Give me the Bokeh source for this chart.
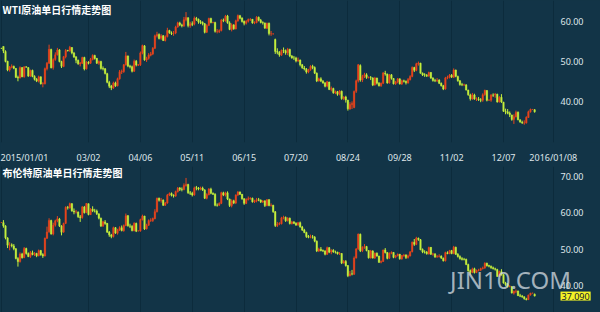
import pandas as pd
from bokeh.plotting import figure
from bokeh.layouts import column
from bokeh.models import ColumnDataSource, FixedTicker, Label, Range1d
from bokeh.core.properties import value
from bokeh.embed import file_html
from bokeh.resources import INLINE

# ---------------- data (one bar per weekday, 2015-01-01 .. 2015-12-28) ----------------
wti_open = [
    53.30, 53.76, 52.50, 50.05, 47.90, 48.60, 48.80, 48.30, 46.10, 45.90, 48.50, 46.20, 48.70, 48.50, 46.40, 47.80, 46.30, 45.60, 45.10, 46.20, 44.50, 44.50,
    48.20, 49.60, 53.00, 48.50, 50.50, 51.70, 52.90, 50.00, 48.80, 51.20, 52.80, 52.70, 53.50, 52.10, 51.20, 50.30, 49.40, 49.60, 51.00, 48.20,
    49.80, 49.60, 50.50, 51.50, 50.80, 49.60, 50.00, 48.30, 48.20, 47.00, 44.80, 43.90, 43.40, 44.70, 44.00, 45.70, 47.40, 47.50, 49.20, 51.40, 48.90, 48.70,
    47.60, 50.10, 49.10, 49.20, 52.10, 53.90, 50.40, 50.80, 51.60, 51.90, 53.30, 56.40, 56.70, 55.80, 56.40, 55.20, 56.20, 57.70, 57.10, 57.00, 57.10, 58.60,
    59.60, 59.10, 58.90, 60.40, 60.90, 58.90, 59.40, 59.30, 60.70, 60.50, 59.90, 59.70, 59.40, 57.30, 59.00, 60.70, 59.70, 59.70, 57.50, 57.50, 57.70,
    60.30, 60.20, 61.30, 59.60, 58.00, 59.10, 58.10, 60.10, 61.40, 60.80, 60.00, 59.50, 60.00, 60.40, 60.50, 59.60, 59.70, 61.00, 60.30, 59.70, 59.60, 58.30,
    59.50, 56.90, 56.90, 55.50, 52.50, 52.30, 51.60, 52.80, 52.70, 52.20, 53.00, 51.40, 50.90, 50.90, 50.20, 50.40, 49.20, 48.40, 48.10, 47.40, 48.00, 48.80, 48.50,
    47.10, 45.20, 45.70, 45.10, 44.70, 43.90, 44.90, 43.10, 43.30, 42.20, 42.50, 41.90, 42.60, 40.80, 41.20, 40.40, 38.20, 39.30, 38.60, 42.60, 45.20,
    49.00, 45.40, 46.30, 46.70, 46.00, 46.00, 45.90, 44.20, 45.90, 44.60, 44.00, 44.60, 47.10, 46.90, 44.70, 46.70, 45.80, 44.50, 44.90, 45.70, 44.40, 45.20,
    45.10, 44.70, 45.50, 46.30, 48.50, 47.80, 49.40, 49.60, 47.10, 46.70, 46.60, 46.40, 47.30, 45.90, 45.30, 45.20, 45.40, 44.60, 44.00, 43.20, 45.90, 46.10,
    46.60, 46.10, 47.90, 46.30, 45.20, 44.30, 44.20, 44.20, 42.90, 41.70, 40.70, 41.70, 40.70, 40.70, 40.50, 40.40, 41.80, 42.80, 40.40, 40.40, 41.70,
    41.70, 41.90, 40.00, 41.10, 39.90, 37.60, 37.50, 37.20, 36.70, 35.60, 36.30, 37.40, 35.50, 34.90, 34.70, 34.70, 36.10, 37.50, 38.10, 38.00,
]
wti_high = [
    53.40, 53.80, 52.80, 50.20, 48.90, 49.30, 49.00, 48.40, 46.50, 48.80, 48.60, 48.80, 48.80, 48.60, 48.00, 48.00, 46.60, 45.90, 46.50, 46.30, 44.90, 48.50,
    49.90, 54.20, 53.20, 50.80, 52.30, 53.40, 53.10, 50.20, 51.40, 53.10, 52.90, 53.90, 53.60, 52.40, 51.30, 50.50, 49.90, 51.20, 51.20, 50.10,
    50.10, 50.90, 51.80, 51.70, 50.90, 50.30, 50.20, 48.80, 48.40, 47.20, 45.20, 44.20, 45.00, 45.00, 46.00, 47.90, 48.00, 49.40, 52.40, 51.50, 49.20, 49.00,
    50.50, 50.40, 49.40, 52.50, 54.20, 54.10, 51.20, 52.10, 52.40, 53.60, 56.70, 57.40, 57.00, 56.80, 56.60, 56.50, 58.40, 57.90, 57.50, 57.60, 58.90, 59.90,
    59.90, 59.40, 61.10, 62.30, 61.00, 59.90, 60.00, 61.20, 61.10, 60.70, 60.30, 60.00, 59.60, 59.30, 60.90, 60.90, 59.90, 59.90, 58.10, 58.00, 60.60,
    60.70, 61.60, 61.60, 60.00, 59.50, 59.30, 60.40, 61.70, 61.60, 61.00, 60.20, 60.30, 60.70, 60.80, 60.60, 60.00, 61.30, 61.20, 60.60, 60.00, 59.70, 59.70,
    59.70, 57.60, 57.00, 55.70, 53.30, 52.60, 53.00, 53.50, 53.00, 53.40, 53.20, 51.60, 51.40, 51.20, 51.00, 50.50, 49.40, 48.90, 48.40, 48.20, 49.10, 49.20, 48.80,
    47.30, 46.00, 46.10, 45.40, 44.90, 45.20, 45.00, 43.80, 43.50, 42.80, 42.70, 42.90, 42.80, 41.40, 41.50, 40.50, 39.90, 40.10, 42.80, 45.50, 49.40,
    49.30, 46.70, 47.20, 47.10, 46.30, 46.40, 46.10, 46.20, 46.00, 44.90, 44.80, 47.40, 47.70, 47.00, 46.90, 46.90, 45.90, 45.20, 45.90, 45.80, 45.50, 45.50,
    45.30, 45.90, 46.60, 48.80, 48.70, 49.70, 50.00, 49.70, 47.30, 47.10, 46.90, 47.50, 47.40, 46.10, 45.70, 45.90, 45.60, 44.80, 44.20, 46.20, 46.50, 46.90,
    46.90, 48.30, 48.00, 46.50, 45.40, 44.70, 44.50, 44.40, 43.00, 42.00, 42.20, 42.00, 41.10, 41.20, 40.90, 42.10, 43.00, 42.90, 40.60, 41.90, 42.10,
    42.20, 42.00, 41.40, 41.90, 40.00, 38.30, 38.20, 37.60, 36.80, 36.90, 37.80, 37.60, 35.70, 35.30, 35.40, 36.40, 37.80, 38.30, 38.20, 38.20,
]
wti_low = [
    53.20, 52.10, 49.80, 47.60, 47.50, 48.30, 48.10, 45.90, 45.10, 45.80, 46.10, 46.00, 48.50, 46.20, 46.20, 46.10, 45.30, 44.90, 44.80, 44.30, 43.60, 44.30,
    47.80, 49.40, 48.30, 48.00, 50.20, 51.50, 49.80, 48.40, 48.60, 50.80, 52.50, 52.40, 51.80, 50.90, 49.60, 49.20, 48.80, 49.40, 47.80, 48.00,
    49.30, 49.40, 50.30, 50.50, 49.40, 49.20, 48.00, 47.80, 46.80, 44.60, 43.40, 42.90, 43.20, 43.70, 43.80, 45.50, 46.90, 47.20, 49.00, 48.60, 48.30, 47.30,
    47.40, 48.80, 48.90, 48.90, 51.80, 50.20, 49.90, 50.50, 51.30, 51.60, 53.10, 56.00, 55.50, 55.40, 55.10, 55.00, 56.00, 56.90, 56.60, 56.40, 56.80, 58.40,
    58.80, 58.50, 58.60, 60.00, 58.50, 58.40, 58.80, 59.00, 60.10, 59.40, 59.30, 59.00, 57.00, 57.10, 58.80, 59.50, 59.50, 57.20, 57.00, 57.10, 57.50,
    59.80, 59.90, 59.40, 57.80, 57.50, 57.90, 58.00, 59.90, 60.50, 59.70, 59.00, 59.20, 59.70, 60.10, 59.40, 59.30, 59.50, 60.00, 59.50, 59.20, 58.10, 58.10,
    56.50, 56.40, 56.70, 51.90, 51.80, 51.20, 51.40, 52.10, 51.70, 51.60, 51.10, 50.70, 50.40, 49.80, 49.90, 48.80, 48.20, 47.80, 47.00, 47.10, 47.70, 48.10, 46.90,
    44.90, 45.00, 44.90, 44.50, 43.60, 43.60, 42.90, 42.60, 42.00, 41.90, 41.50, 41.60, 40.50, 40.40, 39.80, 37.80, 38.00, 38.20, 38.40, 42.20, 44.80,
    45.00, 44.90, 45.90, 45.70, 45.80, 45.40, 43.90, 44.00, 44.30, 43.80, 43.70, 44.40, 46.50, 44.50, 44.50, 45.50, 44.30, 44.20, 44.60, 44.30, 44.20, 44.80,
    44.30, 44.50, 45.30, 46.10, 47.40, 47.60, 49.00, 47.00, 46.40, 46.20, 46.20, 46.20, 45.70, 45.00, 44.90, 44.90, 44.40, 43.80, 42.90, 43.00, 45.60, 45.80,
    45.90, 45.90, 46.10, 45.00, 44.00, 43.90, 43.90, 42.80, 41.50, 40.30, 40.50, 40.50, 40.20, 40.20, 39.90, 40.00, 41.50, 40.10, 40.20, 40.00, 41.20,
    41.00, 39.80, 39.80, 39.70, 37.50, 36.90, 36.90, 36.20, 35.30, 34.50, 36.10, 35.40, 34.80, 34.50, 34.30, 34.60, 36.00, 37.30, 38.00, 37.30,
]
wti_close = [
    53.27, 52.69, 50.04, 47.93, 48.65, 48.79, 48.36, 46.07, 45.89, 48.48, 46.25, 48.69, 48.60, 46.39, 47.78, 46.31, 45.59, 45.15, 46.23, 44.45, 44.53, 48.24,
    49.57, 53.05, 48.45, 50.48, 51.69, 52.86, 50.02, 48.84, 51.21, 52.78, 52.70, 53.53, 52.14, 51.16, 50.34, 49.45, 49.63, 50.99, 48.17, 49.76,
    49.59, 50.52, 51.53, 50.76, 49.61, 50.00, 48.29, 48.17, 47.05, 44.84, 43.88, 43.46, 44.66, 43.96, 45.72, 47.45, 47.51, 49.21, 51.43, 48.87, 48.68, 47.60,
    50.09, 49.14, 49.20, 52.14, 53.98, 50.42, 50.79, 51.64, 51.91, 53.29, 56.39, 56.71, 55.74, 56.38, 55.26, 56.16, 57.74, 57.15, 56.99, 57.06, 58.58, 59.63,
    59.15, 58.93, 60.40, 60.93, 58.94, 59.39, 59.25, 60.75, 60.50, 59.88, 59.69, 59.43, 57.26, 58.98, 60.72, 59.72, 59.70, 57.51, 57.51, 57.68, 60.30,
    60.20, 61.26, 59.64, 58.00, 59.13, 58.14, 60.14, 61.43, 60.77, 59.96, 59.52, 59.97, 60.45, 60.45, 59.61, 59.68, 61.01, 60.27, 59.70, 59.63, 58.33, 59.47,
    56.96, 56.93, 56.90, 52.53, 52.33, 51.65, 52.78, 52.74, 52.20, 53.04, 51.41, 50.91, 50.89, 50.15, 50.36, 49.19, 48.45, 48.14, 47.39, 47.98, 48.79, 48.52, 47.12,
    45.17, 45.74, 45.15, 44.66, 43.87, 44.96, 43.08, 43.30, 42.23, 42.50, 41.87, 42.62, 40.80, 41.14, 40.45, 38.24, 39.31, 39.60, 42.56, 45.22, 49.20,
    45.41, 46.25, 46.75, 46.05, 46.00, 45.94, 44.15, 45.92, 44.63, 44.00, 44.59, 47.15, 46.90, 44.68, 46.68, 45.83, 44.48, 44.91, 45.70, 44.43, 45.23, 45.09,
    44.74, 45.54, 46.26, 48.53, 47.81, 49.43, 49.63, 47.10, 46.66, 46.64, 46.38, 47.26, 45.89, 45.29, 45.20, 45.38, 44.60, 43.98, 43.20, 45.94, 46.06, 46.59,
    46.14, 47.90, 46.32, 45.20, 44.29, 44.21, 44.21, 42.93, 41.75, 40.74, 41.74, 40.67, 40.75, 40.54, 40.39, 41.75, 42.87, 40.36, 40.40, 41.71, 41.65,
    41.85, 39.94, 41.08, 39.97, 37.65, 37.51, 37.16, 36.76, 35.62, 36.31, 37.35, 35.52, 34.95, 34.73, 34.74, 36.14, 37.50, 38.10, 38.10, 37.50,
]

brent_open = [
    57.30, 57.30, 56.40, 53.10, 51.10, 51.20, 50.90, 50.10, 47.40, 46.60, 48.70, 47.70, 50.20, 48.80, 48.00, 49.00, 48.50, 48.80, 48.20, 49.60, 48.50, 48.10,
    53.00, 54.80, 57.90, 54.20, 56.60, 57.80, 58.30, 56.40, 54.70, 57.10, 61.50, 61.40, 62.50, 60.50, 60.20, 60.20, 58.90, 58.70, 61.60, 60.10,
    62.50, 59.50, 61.00, 60.50, 60.50, 59.70, 58.50, 56.40, 57.50, 57.10, 54.70, 53.90, 53.50, 55.90, 54.40, 55.30, 55.90, 55.10, 56.50, 59.20, 56.40, 56.30,
    55.10, 57.10, 55.00, 55.00, 58.10, 59.10, 55.60, 56.60, 57.90, 57.90, 58.40, 60.30, 64.00, 63.40, 63.50, 62.10, 62.70, 64.90, 65.30, 64.80, 64.60, 65.80,
    66.80, 66.50, 66.40, 67.50, 67.80, 65.50, 65.40, 64.90, 66.90, 66.80, 66.60, 66.80, 66.30, 64.00, 65.00, 66.50, 65.40, 65.10, 62.10, 62.10, 62.60,
    65.50, 64.90, 65.50, 63.80, 62.00, 63.30, 62.70, 64.90, 65.70, 65.10, 63.90, 62.60, 63.70, 63.90, 64.00, 63.00, 63.30, 63.60, 63.50, 63.00, 63.30, 62.00,
    63.60, 62.00, 62.10, 60.30, 56.50, 56.90, 57.00, 58.60, 58.70, 57.90, 58.50, 57.00, 57.50, 57.10, 56.70, 57.30, 56.10, 55.30, 54.60, 53.50, 53.30, 53.40, 53.30,
    52.20, 49.50, 50.00, 49.60, 49.50, 48.60, 50.40, 49.20, 49.70, 49.20, 49.20, 48.70, 48.80, 46.20, 46.60, 45.50, 42.70, 43.20, 43.10, 47.60, 50.10,
    54.10, 49.60, 50.50, 50.70, 49.60, 47.60, 49.50, 47.60, 48.90, 48.10, 46.40, 46.60, 49.80, 49.10, 47.50, 48.90, 49.10, 47.80, 48.20, 48.60, 47.30, 48.20,
    48.40, 47.70, 48.10, 49.30, 51.90, 51.30, 53.00, 52.60, 49.90, 49.20, 49.20, 48.70, 50.50, 48.60, 48.70, 47.90, 48.00, 48.10, 47.50, 46.80, 49.00, 48.80,
    49.60, 48.80, 50.50, 48.60, 48.00, 47.40, 47.20, 47.20, 45.80, 44.10, 43.60, 44.60, 43.60, 44.10, 44.20, 44.70, 44.80, 46.10, 45.50, 45.30, 44.90,
    44.60, 44.40, 42.50, 43.80, 43.00, 40.70, 40.30, 39.70, 39.70, 37.90, 38.40, 38.50, 37.20, 37.10, 36.90, 36.30, 36.10, 37.40, 37.90, 37.60,
]
brent_high = [
    57.40, 58.00, 56.60, 53.30, 51.90, 51.60, 51.40, 50.30, 47.80, 49.10, 49.00, 50.60, 50.40, 49.10, 49.50, 49.60, 49.20, 49.00, 49.90, 49.80, 48.90, 53.20,
    56.20, 58.50, 58.10, 57.30, 58.10, 59.10, 58.60, 56.60, 57.30, 61.80, 61.90, 62.80, 62.70, 61.20, 60.80, 60.40, 59.40, 61.90, 61.90, 62.70,
    62.60, 61.30, 61.80, 61.10, 60.90, 59.90, 58.70, 57.80, 58.00, 57.20, 55.00, 54.20, 56.20, 56.10, 55.60, 56.30, 56.50, 56.80, 59.80, 59.40, 57.00, 56.60,
    57.40, 57.30, 55.20, 58.40, 59.50, 59.20, 57.00, 58.20, 58.50, 58.70, 61.00, 64.20, 64.20, 64.10, 63.70, 63.00, 65.20, 65.60, 65.60, 65.10, 66.10, 67.10,
    67.10, 67.00, 68.10, 69.60, 68.00, 66.00, 65.80, 67.20, 67.40, 67.10, 67.20, 67.20, 66.50, 65.40, 66.80, 66.90, 65.60, 65.40, 62.60, 62.90, 65.80,
    65.80, 65.80, 65.90, 63.90, 63.70, 63.60, 65.10, 66.00, 65.90, 65.20, 64.00, 64.00, 64.50, 64.30, 64.20, 63.60, 64.10, 64.10, 63.70, 63.50, 63.40, 63.80,
    63.80, 62.60, 62.20, 60.50, 57.50, 57.40, 58.90, 59.20, 59.00, 58.80, 58.70, 57.80, 57.70, 57.40, 57.50, 57.60, 56.40, 55.60, 54.80, 53.90, 54.00, 53.90, 53.60,
    52.40, 50.40, 50.60, 49.90, 49.70, 50.70, 50.60, 50.00, 50.00, 49.60, 49.30, 49.20, 48.90, 47.00, 47.00, 45.60, 44.00, 44.30, 48.00, 50.30, 54.30,
    54.30, 50.80, 51.40, 50.90, 49.70, 49.80, 49.70, 49.10, 49.10, 48.20, 46.90, 49.90, 50.30, 49.20, 49.10, 49.40, 49.20, 48.40, 48.80, 48.70, 48.40, 48.70,
    48.60, 48.50, 49.50, 52.10, 52.80, 53.40, 53.20, 52.80, 50.20, 49.70, 49.50, 50.70, 50.60, 49.00, 48.90, 48.40, 48.60, 48.30, 47.70, 49.30, 49.40, 49.80,
    49.80, 50.90, 50.70, 48.90, 48.30, 47.80, 47.60, 47.40, 46.00, 44.40, 44.90, 44.90, 44.40, 44.60, 44.90, 45.20, 46.40, 46.30, 45.70, 45.50, 45.20,
    44.90, 44.60, 44.10, 44.50, 43.10, 41.00, 40.70, 40.10, 39.80, 38.60, 38.90, 38.60, 37.70, 37.40, 37.00, 36.60, 37.50, 38.00, 38.00, 37.80,
]
brent_low = [
    57.20, 55.90, 52.70, 50.30, 49.70, 50.50, 49.70, 47.20, 45.20, 46.30, 47.40, 47.50, 48.50, 47.80, 47.60, 48.30, 48.10, 47.80, 48.00, 48.20, 47.60, 48.00,
    52.80, 54.50, 54.00, 53.80, 56.20, 57.40, 56.10, 53.80, 54.50, 56.90, 60.90, 61.10, 60.30, 59.60, 59.80, 58.60, 57.50, 58.40, 59.80, 59.90,
    59.30, 59.40, 60.20, 60.10, 59.40, 58.20, 56.10, 56.10, 56.70, 54.50, 53.40, 53.00, 53.20, 54.20, 54.00, 55.00, 54.90, 54.80, 56.30, 56.20, 55.80, 54.90,
    54.90, 54.70, 54.90, 54.80, 57.90, 55.30, 55.40, 56.40, 57.50, 57.50, 58.20, 60.10, 63.10, 62.80, 61.90, 61.90, 62.50, 64.60, 64.50, 64.20, 64.40, 65.60,
    66.00, 65.90, 66.20, 67.20, 65.20, 64.90, 64.50, 64.70, 66.20, 66.20, 66.20, 66.00, 63.80, 63.70, 64.80, 65.10, 64.90, 61.80, 61.70, 61.90, 62.40,
    64.60, 64.50, 63.50, 61.60, 61.50, 62.40, 62.40, 64.60, 64.90, 63.60, 62.20, 62.40, 63.40, 63.60, 62.80, 62.70, 62.90, 63.20, 62.70, 62.70, 61.60, 61.80,
    61.80, 61.70, 60.00, 56.10, 56.10, 56.60, 56.80, 58.20, 57.50, 57.60, 56.80, 56.80, 56.90, 56.40, 56.40, 55.90, 55.00, 54.40, 53.10, 53.00, 53.00, 52.90, 51.90,
    49.20, 49.20, 49.40, 49.20, 48.30, 48.40, 48.90, 48.60, 49.00, 48.80, 48.50, 48.40, 45.90, 46.00, 45.20, 42.30, 42.50, 42.80, 42.90, 47.40, 49.80,
    49.20, 49.20, 50.10, 49.40, 47.40, 47.40, 47.40, 47.30, 47.90, 46.20, 46.10, 46.50, 48.80, 47.20, 47.30, 48.60, 47.50, 47.50, 48.00, 47.10, 47.10, 47.90,
    47.30, 47.40, 48.00, 49.10, 50.90, 51.10, 52.30, 49.70, 48.90, 48.80, 48.50, 48.50, 48.40, 48.20, 47.60, 47.60, 47.70, 47.30, 46.60, 46.60, 48.60, 48.60,
    48.60, 48.60, 48.40, 47.70, 47.10, 46.90, 46.90, 45.60, 43.80, 43.00, 43.40, 43.30, 43.40, 43.90, 44.00, 44.40, 44.60, 45.20, 45.00, 44.60, 44.40,
    44.10, 42.40, 42.40, 42.70, 40.50, 39.90, 39.40, 39.50, 37.80, 37.50, 37.90, 37.10, 36.80, 36.60, 36.10, 35.90, 36.00, 37.20, 37.80, 37.00,
]
brent_close = [
    57.33, 56.42, 53.11, 51.10, 51.15, 50.96, 50.11, 47.43, 46.59, 48.69, 47.67, 50.17, 48.84, 47.99, 49.03, 48.52, 48.79, 48.16, 49.60, 48.47, 48.13, 52.99,
    54.75, 57.91, 54.16, 56.57, 57.80, 58.34, 56.43, 54.66, 57.05, 61.52, 61.40, 62.53, 60.53, 60.21, 60.22, 58.90, 58.66, 61.63, 60.05, 62.58,
    59.54, 61.02, 60.55, 60.48, 59.73, 58.53, 56.39, 57.54, 57.08, 54.67, 53.94, 53.51, 55.91, 54.43, 55.32, 55.92, 55.11, 56.48, 59.19, 56.41, 56.29, 55.11,
    57.10, 54.95, 55.00, 58.12, 59.10, 55.55, 56.57, 57.87, 57.93, 58.43, 60.32, 63.98, 63.45, 63.45, 62.08, 62.72, 64.85, 65.28, 64.83, 64.64, 65.84, 66.78,
    66.46, 66.45, 67.52, 67.77, 65.54, 65.39, 64.91, 66.86, 66.81, 66.59, 66.81, 66.27, 64.02, 65.03, 66.54, 65.37, 65.10, 62.06, 62.06, 62.58, 65.56,
    64.88, 65.49, 63.80, 62.03, 63.31, 62.69, 64.88, 65.70, 65.08, 63.87, 62.61, 63.70, 63.87, 63.98, 63.02, 63.34, 63.62, 63.49, 62.96, 63.26, 62.01, 63.59,
    62.01, 62.07, 60.32, 56.54, 56.85, 57.05, 58.61, 58.73, 57.85, 58.51, 57.05, 57.48, 57.10, 56.65, 57.27, 56.13, 55.27, 54.62, 53.47, 53.30, 53.38, 53.31, 52.21,
    49.52, 49.99, 49.59, 49.52, 48.61, 50.41, 49.18, 49.66, 49.22, 49.19, 48.74, 48.81, 46.16, 46.62, 45.46, 42.69, 43.21, 43.14, 47.56, 50.05, 54.15,
    49.56, 50.50, 50.68, 49.61, 47.63, 49.52, 47.58, 48.89, 48.14, 46.37, 46.63, 49.75, 49.08, 47.47, 48.92, 49.08, 47.75, 48.17, 48.60, 47.34, 48.23, 48.37,
    47.69, 48.13, 49.25, 51.92, 51.33, 53.05, 52.65, 49.86, 49.24, 49.15, 48.71, 50.46, 48.61, 48.71, 47.85, 47.99, 48.08, 47.54, 46.81, 49.05, 48.80, 49.56,
    48.79, 50.54, 48.58, 47.98, 47.42, 47.19, 47.19, 45.81, 44.06, 43.61, 44.56, 43.57, 44.14, 44.18, 44.66, 44.83, 46.12, 45.46, 45.29, 44.86, 44.61,
    44.44, 42.49, 43.84, 43.00, 40.73, 40.26, 39.73, 39.73, 37.93, 38.45, 38.45, 37.19, 37.06, 36.88, 36.35, 36.11, 37.36, 37.89, 37.90, 37.09,
]

titles = ["WTI原油单日行情走势图", "布伦特原油单日行情走势图"]
tick_dates = ["2015-01-01", "2015-03-02", "2015-04-06", "2015-05-11", "2015-06-15", "2015-07-20",
              "2015-08-24", "2015-09-28", "2015-11-02", "2015-12-07", "2016-01-08"]
tick_labels = ["2015/01/01", "03/02", "04/06", "05/11", "06/15", "07/20",
               "08/24", "09/28", "11/02", "12/07", "2016/01/08"]
wti_yticks = [40, 50, 60]
brent_yticks = [40, 50, 60, 70]
last_price = 37.09
watermark = "JIN10.COM"

# ---------------- styling ----------------
BG = "#123447"
GRID = "#0c2b3c"
UP = "#e8441c"
DOWN = "#c6ef3c"
TXT = "#dfe6ea"
FONT = "Noto Sans"
CJK = "Noto Sans CJK SC"

weekdays = pd.bdate_range("2015-01-01", "2016-02-01")
tick_idx = [int(weekdays.get_loc(pd.Timestamp(d))) for d in tick_dates]

W = 600
PX = 2.075                 # pixels per weekday
X0 = -0.41
X1 = X0 + W / PX
LABEL_X = X0 + 560 / PX    # left edge of the price labels


def make_panel(o, h, l, c, y0, y1, height, frame_h, yticks, title, show_x):
    n = len(c)
    assert len(o) == n and len(h) == n and len(l) == n, (len(o), len(h), len(l), n)
    src = ColumnDataSource(dict(
        x=list(range(n)), o=o, h=h, l=l, c=c,
        top=[max(a, b) for a, b in zip(o, c)],
        bot=[min(a, b) for a, b in zip(o, c)],
        col=[UP if b >= a else DOWN for a, b in zip(o, c)],
    ))
    p = figure(width=W, height=height, x_range=Range1d(X0, X1), y_range=Range1d(y0, y1),
               output_backend="svg", toolbar_location=None, y_axis_location=None,
               background_fill_color=BG, border_fill_color=BG, outline_line_color=None,
               min_border_left=0, min_border_right=0, min_border_top=0,
               min_border_bottom=height - frame_h)
    p.segment(x0="x", y0="l", x1="x", y1="h", color="col", line_width=1, source=src)
    p.vbar(x="x", width=0.72, top="top", bottom="bot", fill_color="col", line_color="col",
           line_width=0.4, source=src)

    p.ygrid.grid_line_color = None
    p.xgrid.ticker = FixedTicker(ticks=tick_idx)
    p.xgrid.grid_line_color = GRID
    p.xgrid.grid_line_width = 1

    # price scale labels on the right, inside the chart area
    ysrc = ColumnDataSource(dict(y=yticks, txt=["%.2f" % v for v in yticks]))
    p.text(x=LABEL_X, y="y", text="txt", source=ysrc, text_align="left",
           text_baseline="middle", text_color=TXT, text_font=value(FONT),
           text_font_size="9px")

    xa = p.xaxis[0]
    if show_x:
        label_pos = list(tick_idx)
        label_pos[0] = tick_idx[0] + 10.7   # first label kept inside the canvas
        xa.ticker = FixedTicker(ticks=label_pos)
        xa.major_label_overrides = {pos: lab for pos, lab in zip(label_pos, tick_labels)}
        xa.axis_line_color = None
        xa.major_tick_line_color = None
        xa.minor_tick_line_color = None
        xa.major_label_standoff = 2
        xa.major_label_text_color = TXT
        xa.major_label_text_font = FONT
        xa.major_label_text_font_size = "9px"
    else:
        xa.visible = False

    ppu = frame_h / (y1 - y0)
    p.add_layout(Label(x=X0 + 2 / PX, y=y1 - (9 if show_x else 6) / ppu, text=title,
                       text_baseline="middle", text_align="left", text_color="#ffffff",
                       text_font=CJK, text_font_size="10px", text_font_style="bold"))
    return p, ppu


p1, _ = make_panel(wti_open, wti_high, wti_low, wti_close, 29.88, 65.18, 166, 150,
                   wti_yticks, titles[0], True)
p2, ppu2 = make_panel(brent_open, brent_high, brent_low, brent_close, 32.57, 72.75, 146, 146,
                      brent_yticks, titles[1], False)

p2.add_layout(Label(x=X0 + 510 / PX, y=72.75 - 113 / ppu2, text=watermark,
                    text_align="center", text_baseline="middle", text_color="#d5dde2",
                    text_alpha=0.75, text_font=FONT, text_font_size="24px"))
p2.add_layout(Label(x=LABEL_X, y=last_price, text="%.3f" % last_price,
                    text_align="left", text_baseline="middle", text_color="#102030",
                    text_font=FONT, text_font_size="9px",
                    background_fill_color="#f3f326", padding=1))

layout = column(p1, p2, spacing=0)
layout.styles = {"background-color": BG}
html = file_html(layout, INLINE)
html = html.replace("<body>", '<body style="margin:0;background:%s">' % BG, 1)
open("out.html", "w").write(html)
